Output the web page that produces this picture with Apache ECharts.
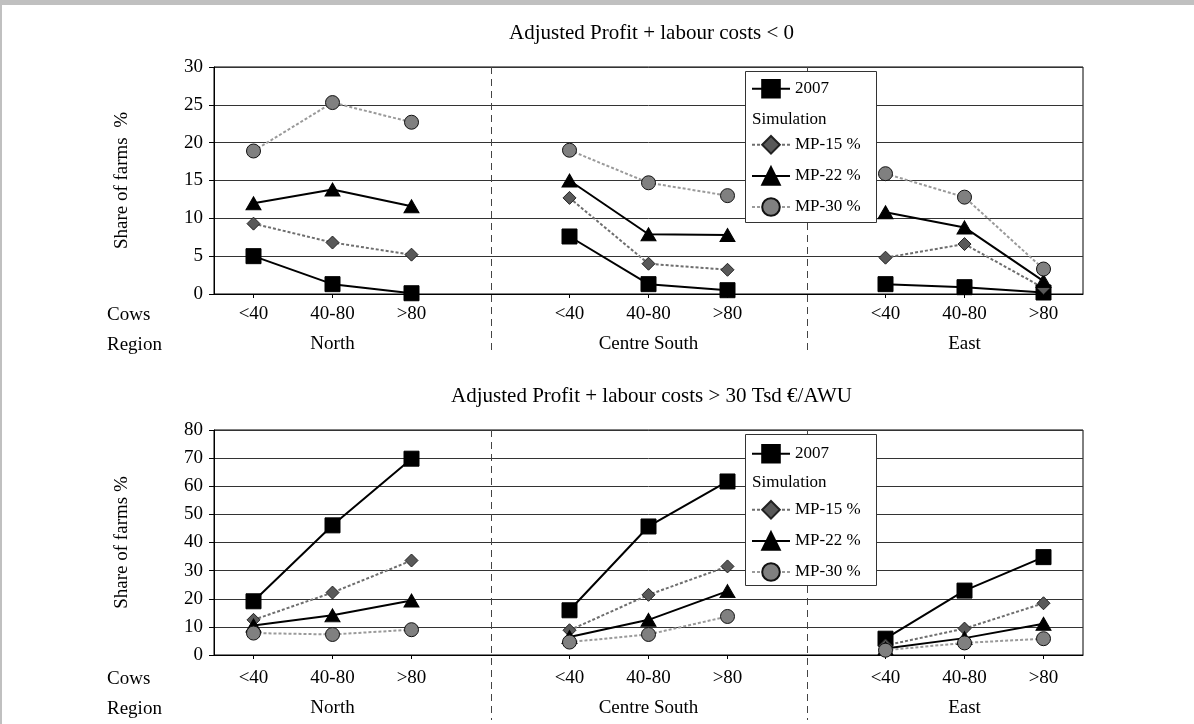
<!DOCTYPE html>
<html>
<head>
<meta charset="utf-8">
<title>Share of farms</title>
<script src="https://cdn.jsdelivr.net/npm/echarts@6/dist/echarts.min.js"></script>
<style>
    html, body { margin: 0; padding: 0; background: #c0c0c0; }
    #app { position: absolute; left: 2px; top: 5px; width: 1192px; height: 719px; background: #fff; }
</style>
</head>
<body>
<div id="app"></div>
<script>
//x轴分组
var cows = ['<40', '40-80', '>80']
var regions = ['North', 'Centre South', 'East']

//上图: Adjusted Profit + labour costs < 0
var lossTicks = [0, 5, 10, 15, 20, 25, 30]
var loss2007 = [5.0, 1.3, 0.1, 7.6, 1.3, 0.5, 1.3, 0.9, 0.2]
var lossMP15 = [9.3, 6.8, 5.2, 12.7, 4.0, 3.2, 4.8, 6.6, 0.8]
var lossMP22 = [12.0, 13.8, 11.6, 15.0, 7.9, 7.8, 10.8, 8.8, 1.7]
var lossMP30 = [18.9, 25.3, 22.7, 19.0, 14.7, 13.0, 15.9, 12.8, 3.3]

//下图: Adjusted Profit + labour costs > 30 Tsd €/AWU
var highTicks = [0, 10, 20, 30, 40, 50, 60, 70, 80]
var high2007 = [19.1, 46.1, 69.8, 15.9, 45.7, 61.7, 5.8, 22.9, 34.8]
var highMP15 = [12.5, 22.2, 33.6, 8.8, 21.4, 31.5, 3.4, 9.4, 18.4]
var highMP22 = [10.5, 14.1, 19.4, 6.4, 12.5, 22.7, 2.3, 6.0, 11.1]
var highMP30 = [7.8, 7.3, 9.0, 4.6, 7.3, 13.7, 1.7, 4.3, 5.8]

var font = 'Liberation Serif'
var labelSize = 19

//类目: 每个地区三组, 中间留一个空位
var cats = []
regions.forEach((r, i) => {
    cows.forEach((c) => cats.push(r + '|' + c))
    if (i < regions.length - 1) cats.push('gap' + i)
})

//把9个值放到11个类目上
var spread = (vals) => {
    var out = []
    regions.forEach((r, i) => {
        for (var k = 0; k < cows.length; k++) out.push(vals[i * cows.length + k])
        if (i < regions.length - 1) out.push(null)
    })
    return out
}

var styles = {
    '2007': {symbol: 'rect', symbolSize: 15, color: '#000', border: '#000', line: {color: '#000', width: 2, type: 'solid'}},
    'MP-15 %': {symbol: 'diamond', symbolSize: 13, color: '#595959', border: '#222', line: {color: '#6e6e6e', width: 2, type: [3, 2]}},
    'MP-22 %': {symbol: 'triangle', symbolSize: [15, 13], color: '#000', border: '#000', line: {color: '#000', width: 2, type: 'solid'}},
    'MP-30 %': {symbol: 'circle', symbolSize: 14, color: '#808080', border: '#111', line: {color: '#9a9a9a', width: 2, type: [3, 2]}}
}

var makeSeries = (name, vals, idx) => {
    var s = styles[name]
    return {
        name: name,
        type: 'line',
        xAxisIndex: idx * 2,
        yAxisIndex: idx,
        data: spread(vals),
        symbol: s.symbol,
        symbolSize: s.symbolSize,
        connectNulls: false,
        itemStyle: {color: s.color, borderColor: s.border, borderWidth: 1},
        lineStyle: s.line,
        emphasis: {disabled: true}
    }
}

var grids = [
    {left: 212, top: 62, width: 869, height: 227},
    {left: 212, top: 425, width: 869, height: 225}
]

var xAxes = []
grids.forEach((g, i) => {
    //Cows 行
    xAxes.push({
        type: 'category',
        gridIndex: i,
        data: cats,
        boundaryGap: true,
        axisLine: {lineStyle: {color: '#000', width: 1}},
        axisTick: {
            show: true,
            alignWithLabel: true,
            length: 4,
            interval: (index, value) => value.indexOf('|') > -1,
            lineStyle: {color: '#000'}
        },
        axisLabel: {
            interval: 0,
            margin: i === 0 ? 11 : 14,
            color: '#000',
            fontFamily: font,
            fontSize: labelSize,
            formatter: (v) => v.indexOf('|') > -1 ? v.split('|')[1] : ''
        },
        splitLine: {show: false}
    })
    //Region 行
    xAxes.push({
        type: 'category',
        gridIndex: i,
        data: cats,
        position: 'bottom',
        offset: i === 0 ? 33 : 36,
        axisLine: {show: false},
        axisTick: {show: false},
        axisLabel: {
            interval: 0,
            margin: 8,
            color: '#000',
            fontFamily: font,
            fontSize: labelSize,
            formatter: (v, index) => {
                var r = Math.floor(index / 4)
                return index % 4 === 1 ? regions[r] : ''
            }
        },
        splitLine: {show: false}
    })
})

var yAxes = [
    {ticks: lossTicks, name: 'Share of farms  %'},
    {ticks: highTicks, name: 'Share of farms %'}
].map((a, i) => ({
    type: 'value',
    gridIndex: i,
    min: a.ticks[0],
    max: a.ticks[a.ticks.length - 1],
    interval: a.ticks[1] - a.ticks[0],
    name: a.name,
    nameLocation: 'middle',
    nameRotate: 90,
    nameGap: 82,
    nameTextStyle: {color: '#000', fontFamily: font, fontSize: labelSize},
    axisLine: {show: true, lineStyle: {color: '#000'}},
    axisTick: {show: true, length: 5, lineStyle: {color: '#000'}},
    axisLabel: {color: '#000', fontFamily: font, fontSize: labelSize, margin: 11},
    splitLine: {show: true, lineStyle: {color: '#333', width: 1}}
}))

var legendText = {color: '#000', fontFamily: font, fontSize: 17}
var legendBase = {
    orient: 'vertical',
    left: 749,
    padding: 0,
    itemWidth: 38,
    itemHeight: 22,
    itemGap: 11.5,
    selectedMode: false,
    textStyle: legendText,
    z: 20
}

var chart = echarts.init(document.getElementById('app'), null, {renderer: 'canvas'})

chart.setOption({
    animation: false,
    backgroundColor: '#fff',
    textStyle: {fontFamily: font},
    grid: grids.map((g) => Object.assign({
        show: true,
        borderColor: '#000',
        borderWidth: 1,
        backgroundColor: 'transparent',
        containLabel: false,
        outerBoundsMode: 'none'
    }, g)),
    xAxis: xAxes,
    yAxis: yAxes,
    legend: [
        Object.assign({}, legendBase, {data: ['2007'], top: 74}),
        Object.assign({}, legendBase, {data: ['MP-15 %', 'MP-22 %', 'MP-30 %'], top: 130}),
        Object.assign({}, legendBase, {data: ['2007'], top: 439}),
        Object.assign({}, legendBase, {data: ['MP-15 %', 'MP-22 %', 'MP-30 %'], top: 495})
    ],
    series: [
        makeSeries('2007', loss2007, 0),
        makeSeries('MP-15 %', lossMP15, 0),
        makeSeries('MP-22 %', lossMP22, 0),
        makeSeries('MP-30 %', lossMP30, 0),
        makeSeries('2007', high2007, 1),
        makeSeries('MP-15 %', highMP15, 1),
        makeSeries('MP-22 %', highMP22, 1),
        makeSeries('MP-30 %', highMP30, 1)
    ]
})

//分隔虚线, 标题, 行名和图例框
var graphic = []
var titles = ['Adjusted Profit + labour costs < 0', 'Adjusted Profit + labour costs > 30 Tsd €/AWU']
var ticksList = [lossTicks, highTicks]
var lineEnds = [58, 65]
var rowCows = [21, 24]
var rowRegion = [51, 54]
var rowFont = labelSize + 'px "Liberation Serif"'

grids.forEach((g, i) => {
    var yTop = chart.convertToPixel({yAxisIndex: i}, ticksList[i][ticksList[i].length - 1])
    var yZero = chart.convertToPixel({yAxisIndex: i}, ticksList[i][0])
    var xMid = g.left + g.width / 2

    graphic.push({
        type: 'text',
        x: xMid + 3,
        y: yTop - 34,
        style: {text: titles[i], fill: '#000', font: '21px "Liberation Serif"', align: 'center', verticalAlign: 'middle'}
    })

    cats.forEach((c) => {
        if (c.indexOf('gap') === 0) {
            var x = Math.round(chart.convertToPixel({xAxisIndex: i * 2}, c)) + 0.5
            graphic.push({
                type: 'line',
                shape: {x1: x, y1: yTop, x2: x, y2: yZero + lineEnds[i]},
                style: {stroke: '#444', lineWidth: 1, lineDash: [7, 5]},
                z: 1
            })
        }
    })

    graphic.push({
        type: 'text', x: 105, y: yZero + rowCows[i],
        style: {text: 'Cows', fill: '#000', font: rowFont, verticalAlign: 'middle'}
    })
    graphic.push({
        type: 'text', x: 105, y: yZero + rowRegion[i],
        style: {text: 'Region', fill: '#000', font: rowFont, verticalAlign: 'middle'}
    })

    //图例框
    graphic.push({
        type: 'rect',
        shape: {x: 743.5, y: yTop + 4.5, width: 131, height: 151},
        style: {fill: '#fff', stroke: '#333', lineWidth: 1},
        z: 15
    })
    graphic.push({
        type: 'text', x: 750, y: yTop + 53,
        style: {text: 'Simulation', fill: '#000', font: '17px "Liberation Serif"', verticalAlign: 'middle'},
        z: 16
    })
})

chart.setOption({graphic: graphic})
</script>
</body>
</html>
